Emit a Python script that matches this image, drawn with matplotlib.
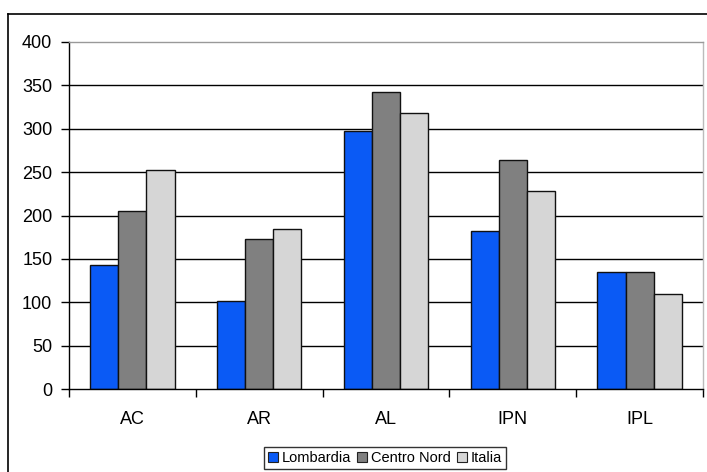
import matplotlib
matplotlib.use("Agg")
import matplotlib.pyplot as plt
import numpy as np
from matplotlib.patches import Rectangle
from matplotlib.lines import Line2D

categories = ["AC", "AR", "AL", "IPN", "IPL"]
series_names = ["Lombardia", "Centro Nord", "Italia"]
lombardia = [143, 101, 297, 182, 135]
centro_nord = [205, 173, 342, 264, 135]
italia = [252, 184, 318, 228, 109]
y_ticks = [0, 50, 100, 150, 200, 250, 300, 350, 400]

colors = ["#0a5af5", "#808080", "#d6d6d6"]

plt.rcParams['font.family'] = ['Liberation Sans', 'DejaVu Sans']

W, H = 707, 472
fig = plt.figure(figsize=(W / 100, H / 100), dpi=100)
ax = fig.add_axes([69 / W, 1 - 389 / H, (703 - 69) / W, (389 - 42) / H])

x = np.arange(len(categories))
w = 1 / 4.5
for k, (vals, c) in enumerate(zip([lombardia, centro_nord, italia], colors)):
    ax.bar(x + (k - 1) * w, vals, width=w, color=c, edgecolor="#111111",
           linewidth=1.0, zorder=3)

ax.set_xlim(-0.5, len(categories) - 0.5)
ax.set_ylim(0, 400)
ax.set_yticks(y_ticks)
ax.set_yticklabels([str(v) for v in y_ticks], fontsize=13)
for v in y_ticks[1:-1]:
    ax.axhline(v, color="black", linewidth=1.0, zorder=1)

ax.set_xticks(np.arange(-0.5, len(categories), 1.0))
ax.set_xticklabels([])
ax.set_xticks(x, minor=True)
ax.set_xticklabels(categories, minor=True, fontsize=13)
ax.tick_params(axis="x", which="major", length=6, width=1, direction="out", color="black")
ax.tick_params(axis="x", which="minor", length=0, pad=16)
ax.tick_params(axis="y", length=6, width=1, direction="out", pad=6)

ax.spines["left"].set_color("black")
ax.spines["bottom"].set_color("black")
ax.spines["top"].set_color("#999999")
ax.spines["right"].set_color("#bbbbbb")
for s in ax.spines.values():
    s.set_linewidth(1.0)
ax.spines["bottom"].set_zorder(4)

# outer chart frame
fig.add_artist(Line2D([8 / W, 8 / W], [0, 1 - 14 / H], color="black", linewidth=1.2,
                      transform=fig.transFigure))
fig.add_artist(Line2D([8 / W, 1], [1 - 14 / H, 1 - 14 / H], color="black", linewidth=1.2,
                      transform=fig.transFigure))

handles = [Rectangle((0, 0), 1, 1, facecolor=c, edgecolor="#222222", linewidth=0.8)
           for c in colors]
leg = fig.legend(handles, series_names, loc="center", bbox_to_anchor=(385 / W, 1 - 458 / H),
                 ncol=3, fontsize=10.5, frameon=True, fancybox=False, edgecolor="black",
                 handlelength=0.7, handleheight=0.7, handletextpad=0.25, columnspacing=0.4,
                 borderpad=0.3, borderaxespad=0)
leg.get_frame().set_linewidth(1.0)

fig.savefig("out.png", dpi=100)
